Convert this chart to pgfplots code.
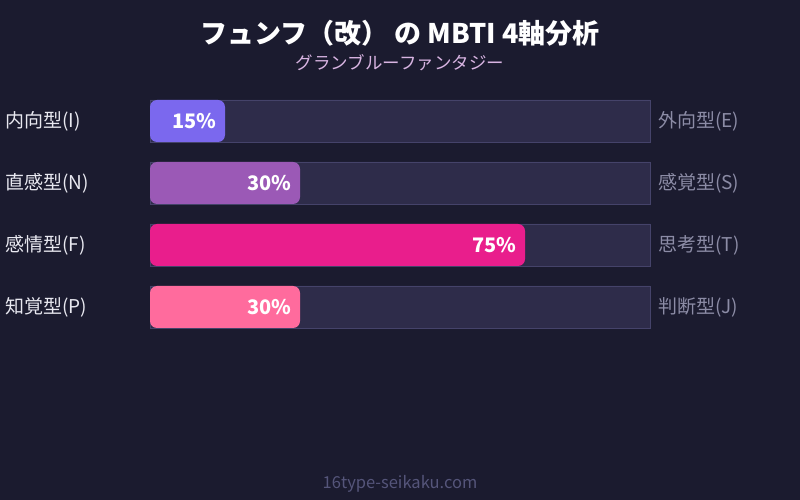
\documentclass[border=0pt]{standalone}
\usepackage{fontspec}
\setmainfont{Noto Sans CJK JP}
\usepackage{pgfplots}
\pgfplotsset{compat=1.18}

\definecolor{bg}{HTML}{1B1B2F}
\definecolor{track}{HTML}{2E2C4A}
\definecolor{trackline}{HTML}{45436A}
\definecolor{barI}{HTML}{7B68EE}
\definecolor{barN}{HTML}{9B59B6}
\definecolor{barF}{HTML}{E91E8C}
\definecolor{barP}{HTML}{FF6B9D}
\definecolor{lefttxt}{HTML}{E8E8F0}
\definecolor{righttxt}{HTML}{8C8CA6}
\definecolor{subtxt}{HTML}{D8B4E2}
\definecolor{foottxt}{HTML}{55557A}

\pgfplotsset{
  trait bar/.style = {
    xbar, bar width = 42pt, bar shift = 0pt,
    draw = none, rounded corners = 7pt,
    nodes near coords = {\pgfmathprintnumber[assume math mode=true]{\pgfplotspointmeta}\%},
    nodes near coords align = {left},
    every node near coord/.append style = {
      text = white, font = \fontsize{20}{24}\selectfont\bfseries,
      xshift = -5pt,
    },
  },
}

\begin{document}
\begin{tikzpicture}[x=1pt, y=1pt]
  \fill[bg] (0,0) rectangle (800,500);
  \node[text=white, font=\fontsize{27}{32}\selectfont\bfseries] at (400,467) {フュンフ（改） の MBTI 4軸分析};
  \node[text=subtxt, font=\fontsize{17.5}{21}\selectfont] at (400,437) {グランブルーファンタジー};
  \node[text=foottxt, font=\fontsize{16.5}{20}\selectfont] at (400,16) {16type-seikaku.com};

  \begin{axis}[
    at = {(150pt,162pt)}, anchor = south west,
    scale only axis, width = 500pt, height = 248pt,
    xmin = 0, xmax = 100, ymin = -0.5, ymax = 3.5,
    y dir = reverse,
    axis lines = none, clip = false,
  ]
    % background tracks (100%)
    \addplot[xbar, bar width = 42pt, bar shift = 0pt, fill = track, draw = trackline, line width = 0.8pt]
      coordinates { (100,0) (100,1) (100,2) (100,3) };

    \addplot[trait bar, fill = barI] coordinates { (15,0) };
    \addplot[trait bar, fill = barN] coordinates { (30,1) };
    \addplot[trait bar, fill = barF] coordinates { (75,2) };
    \addplot[trait bar, fill = barP] coordinates { (30,3) };

    % axis pole labels
    \foreach \i/\l/\r in {0/内向型(I)/外向型(E), 1/直感型(N)/感覚型(S), 2/感情型(F)/思考型(T), 3/知覚型(P)/判断型(J)} {
      \edef\temp{\noexpand\node[anchor=west, text=lefttxt, font=\noexpand\fontsize{19}{22}\noexpand\selectfont, inner sep=0pt]
        at (axis cs:0,\i) [xshift=-145pt] {\l};
        \noexpand\node[anchor=west, text=righttxt, font=\noexpand\fontsize{19}{22}\noexpand\selectfont, inner sep=0pt]
        at (axis cs:100,\i) [xshift=8pt] {\r};}
      \temp
    }
  \end{axis}
\end{tikzpicture}
\end{document}
